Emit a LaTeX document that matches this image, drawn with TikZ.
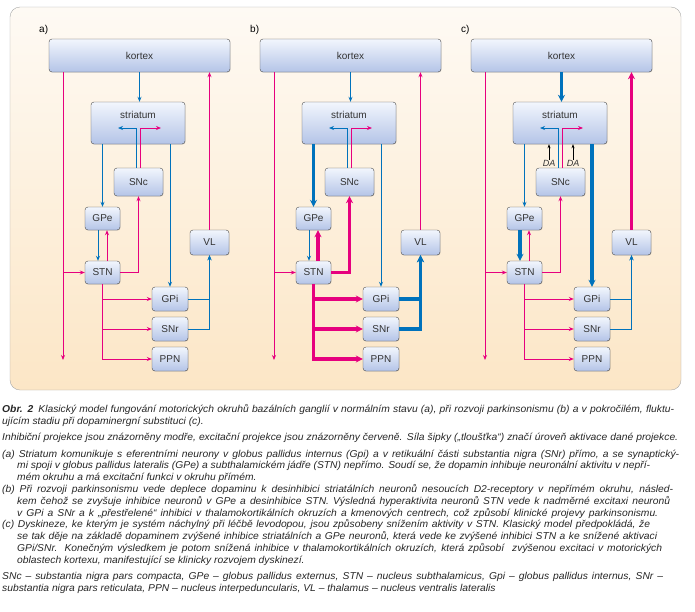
\documentclass[tikz,border=0pt]{standalone}
\usepackage{fontspec}
\setmainfont{Liberation Sans}
\newfontfamily\capfont{Liberation Sans}[FakeStretch=1.03]
\usetikzlibrary{arrows.meta,shadows}

\definecolor{inhblue}{RGB}{0,114,188}
\definecolor{excpink}{RGB}{230,0,126}
\definecolor{boxtop}{RGB}{242,246,253}
\definecolor{boxbot}{RGB}{180,196,231}
\definecolor{paneltop}{RGB}{254,250,244}
\definecolor{panelbot}{RGB}{252,230,198}

\begin{document}
\begin{tikzpicture}[x=1pt, y=-1pt,
    box/.style={draw=black!70, rounded corners=3pt, top color=boxtop, bottom color=boxbot,
        inner sep=0pt, font=\fontsize{10}{12}\selectfont, text=black!80,
        drop shadow={opacity=0.25, shadow xshift=0.6pt, shadow yshift=-0.6pt}},
    inh/.style={draw=inhblue},
    exc/.style={draw=excpink},
    lean/.style={line width=0.8pt, -{Stealth[length=5pt,width=4pt]}},
    fat/.style={line width=3.6pt, -{Stealth[length=7pt,width=7pt]}},
    capline/.style={anchor=west, inner sep=0pt, text height=7pt, text depth=2pt,
        font=\capfont\fontsize{10}{12}\selectfont\itshape, text=black!85}]
    \useasboundingbox (0,0) rectangle (695,611);

    % Background panel
    \draw[draw=black!35, top color=paneltop, bottom color=panelbot, rounded corners=10pt]
        (10,7) rectangle (681,390);

    % The three states, side by side: thick in b (\sb) or in c (\sc)
    \foreach \p/\dx/\sb/\sc in {a/0/lean/lean, b/211/fat/lean, c/422/lean/fat} {
    \begin{scope}[xshift=\dx pt]
        \node[anchor=west, inner sep=0pt, font=\fontsize{10}{12}\selectfont] (\p-tag) at (39,30) {\p)};
        \node[box, minimum width=181pt, minimum height=33pt] (\p-kortex) at (139.5,55.5) {kortex};
        \node[box, minimum width=94pt, minimum height=42pt, text height=16pt, text depth=26pt]
            (\p-striatum) at (138,123) {striatum};
        \node[box, minimum width=49pt, minimum height=28pt] (\p-SNc) at (138.5,182) {SNc};
        \node[box, minimum width=35pt, minimum height=23pt] (\p-GPe) at (102.5,218.5) {GPe};
        \node[box, minimum width=35pt, minimum height=23pt] (\p-STN) at (102.5,272.5) {STN};
        \node[box, minimum width=36pt, minimum height=24pt] (\p-GPi) at (170,299) {GPi};
        \node[box, minimum width=36pt, minimum height=24pt] (\p-SNr) at (170,329) {SNr};
        \node[box, minimum width=36pt, minimum height=24pt] (\p-PPN) at (170,359) {PPN};
        \node[box, minimum width=39pt, minimum height=25pt] (\p-VL) at (209.5,242.5) {VL};
        \coordinate (\p-end) at (63,360);
        \coordinate (\p-dl) at (118,128);
        \coordinate (\p-dr) at (161,128);

        % kortex in and out
        \draw[exc, lean] (\p-kortex.south -| \p-end) -- (\p-end);
        \draw[exc, lean] (\p-end |- \p-STN.west) -- (\p-STN.west);
        \draw[inh, \sc] (\p-kortex.south) -- (\p-kortex.south |- \p-striatum.north);
        \draw[exc, \sc] (\p-VL.north) -- (\p-VL.north |- \p-kortex.south);
        % dopamine into striatum
        \draw[inh, lean] ([xshift=-2pt]\p-SNc.north) |- (\p-dl);
        \draw[exc, lean] ([xshift=2pt]\p-SNc.north) |- (\p-dr);
        % striatum out
        \draw[inh, \sb] (\p-GPe.north |- \p-striatum.south) -- (\p-GPe.north);
        \draw[inh, \sc] (\p-GPi.north |- \p-striatum.south) -- (\p-GPi.north);
        % GPe and STN
        \draw[inh, \sc] ([xshift=-4.5pt]\p-GPe.south) -- ([xshift=-4.5pt]\p-STN.north);
        \draw[exc, \sb] ([xshift=4.5pt]\p-STN.north) -- ([xshift=4.5pt]\p-GPe.south);
        \draw[exc, \sb] (\p-STN.east) -| (\p-SNc.south);
        \draw[exc, \sb] (\p-STN.south) |- (\p-GPi.west);
        \draw[exc, \sb] (\p-STN.south) |- (\p-SNr.west);
        \draw[exc, \sb] (\p-STN.south) |- (\p-PPN.west);
        % output to thalamus
        \draw[inh, \sb] (\p-GPi.east) -| (\p-VL.south);
        \draw[inh, \sb] (\p-SNr.east) -| (\p-VL.south);
    \end{scope}
    }

    % DA arrows, c only
    \node[inner sep=0pt, font=\fontsize{9}{10}\selectfont\itshape, text=black!80] (c-da1) at (549,163) {DA};
    \node[inner sep=0pt, font=\fontsize{9}{10}\selectfont\itshape, text=black!80] (c-da2) at (573,163) {DA};
    \draw[black, line width=0.6pt, -{Stealth[length=4pt,width=3pt]}] (c-da1.north) -- (c-da1.north |- c-striatum.south);
    \draw[black, line width=0.6pt, -{Stealth[length=4pt,width=3pt]}] (c-da2.north) -- (c-da2.north |- c-striatum.south);

    % Caption, line by line
    \node[capline] (cap1) at (2,410) {\makebox[672pt][s]{\textbf{Obr. 2}\enspace Klasický model fungování motorických okruhů bazálních ganglií v normálním stavu (a), při rozvoji parkinsonismu (b) a v pokročilém, fluktu-}};
    \node[capline] (cap2) at (2,421.8) {ujícím stadiu při dopaminergní substituci (c).};
    \node[capline] (cap3) at (2,438.2) {\makebox[676pt][s]{Inhibiční projekce jsou znázorněny modře, excitační projekce jsou znázorněny červeně. Síla šipky („tloušťka“) značí úroveň aktivace dané projekce.}};
    \node[capline] (cap4) at (2,454.6) {\makebox[677pt][s]{(a) Striatum komunikuje s eferentními neurony v globus pallidus internus (Gpi) a v retikuální části substantia nigra (SNr) přímo, a se synaptický-}};
    \node[capline] (cap5) at (17,466.4) {\makebox[633pt][s]{mi spoji v globus pallidus lateralis (GPe) a subthalamickém jádře (STN) nepřímo. Soudí se, že dopamin inhibuje neuronální aktivitu v nepří-}};
    \node[capline] (cap6) at (17,478.2) {mém okruhu a má excitační funkci v okruhu přímém.};
    \node[capline] (cap7) at (2,490) {\makebox[671pt][s]{(b) Při rozvoji parkinsonismu vede deplece dopaminu k desinhibici striatálních neuronů nesoucích D2-receptory v nepřímém okruhu, násled-}};
    \node[capline] (cap8) at (17,501.8) {\makebox[653pt][s]{kem čehož se zvyšuje inhibice neuronů v GPe a desinhibice STN. Výsledná hyperaktivita neuronů STN vede k nadměrné excitaxi neuronů}};
    \node[capline] (cap9) at (17,513.6) {\makebox[641pt][s]{v GPi a SNr a k „přestřelené“ inhibici v thalamokortikálních okruzích a kmenových centrech, což způsobí klinické projevy parkinsonismu.}};
    \node[capline] (cap10) at (2,525.4) {\makebox[648pt][s]{(c) Dyskineze, ke kterým je systém náchylný při léčbě levodopou, jsou způsobeny snížením aktivity v STN. Klasický model předpokládá, že}};
    \node[capline] (cap11) at (17,537.2) {\makebox[640pt][s]{se tak děje na základě dopaminem zvýšené inhibice striatálních a GPe neuronů, která vede ke zvýšené inhibici STN a ke snížené aktivaci}};
    \node[capline] (cap12) at (17,549) {\makebox[645pt][s]{GPi/SNr. Konečným výsledkem je potom snížená inhibice v thalamokortikálních okruzích, která způsobí\ \ zvýšenou excitaci v motorických}};
    \node[capline] (cap13) at (17,560.8) {oblastech kortexu, manifestující se klinicky rozvojem dyskinezí.};
    \node[capline] (cap14) at (2,577.2) {\makebox[661pt][s]{SNc – substantia nigra pars compacta, GPe – globus pallidus externus, STN – nucleus subthalamicus, Gpi – globus pallidus internus, SNr –}};
    \node[capline] (cap15) at (2,589) {substantia nigra pars reticulata, PPN – nucleus interpeduncularis, VL – thalamus – nucleus ventralis lateralis};
\end{tikzpicture}
\end{document}
